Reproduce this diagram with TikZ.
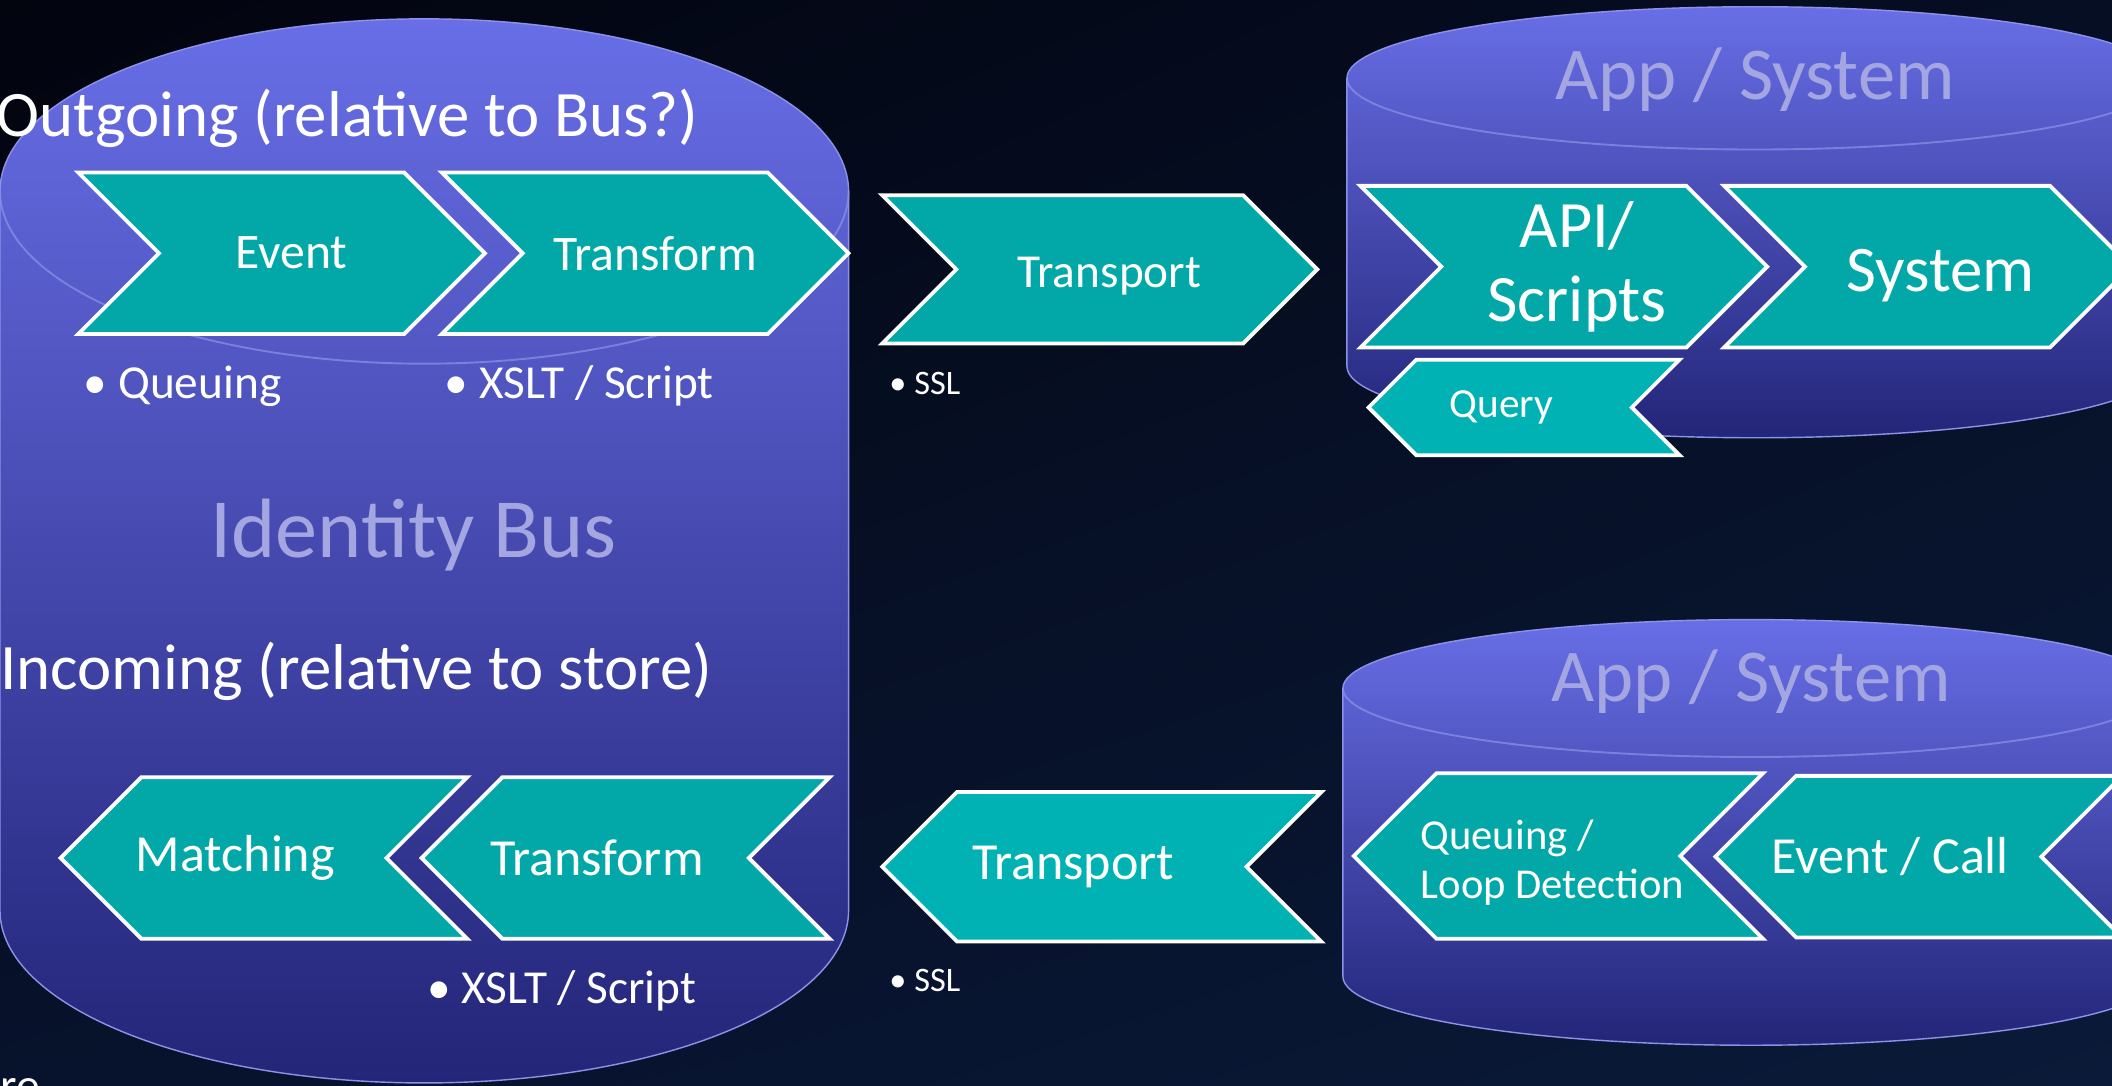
\documentclass[tikz,border=0pt]{standalone}
\usepackage{fontspec}
\setmainfont{Carlito}
\usetikzlibrary{positioning, shapes.symbols, shadings}

\definecolor{chevfill}{RGB}{2,168,168}
\definecolor{chevlight}{RGB}{0,178,180}
\definecolor{drumtop}{RGB}{104,110,230}
\definecolor{drumbot}{RGB}{35,37,120}
\definecolor{drumline}{RGB}{140,146,232}
\definecolor{drumtext}{RGB}{164,166,226}

\begin{document}
\begin{tikzpicture}[
            x=0.02cm, y=0.02cm,
            chev/.style = {shape=signal, draw=white, line width=1.6pt, fill=chevfill, text=white,
                           inner sep=0pt, minimum width=6.04cm, minimum height=2.4cm,
                           font=\fontsize{22}{26}\selectfont},
            rchev/.style = {chev, signal from=west, signal to=east, execute at end node=\hspace{-0.4em}},
            lchev/.style = {chev, signal from=east, signal to=west, execute at begin node=\hspace{-1.1em}},
            drum/.style = {top color=drumtop, bottom color=drumbot, draw=drumline, line width=0.6pt},
            rim/.style = {draw=drumline, line width=0.8pt, opacity=0.7},
            heading/.style = {text=white, inner sep=0pt, anchor=base west, font=\fontsize{27.4}{32}\selectfont},
            dtitle/.style = {text=drumtext, inner sep=0pt, anchor=base},
            bullet/.style = {text=white, inner sep=0pt, anchor=base west, font=\fontsize{20}{24}\selectfont},
            ]
            % background
            \useasboundingbox (0,0) rectangle (1568,806);
            \shade[upper left={rgb,255:red,2;green,4;blue,14}, upper right={rgb,255:red,6;green,14;blue,36},
                   lower left={rgb,255:red,7;green,18;blue,44}, lower right={rgb,255:red,10;green,26;blue,56}]
                (0,0) rectangle (1568,806);

            % identity bus
            \path[drum] (0,664) arc[start angle=180, end angle=0, x radius=315, y radius=128]
                -- (630,130) arc[start angle=0, end angle=-180, x radius=315, y radius=128] -- cycle;
            \draw[rim] (0,664) arc[start angle=180, end angle=360, x radius=315, y radius=128];

            % app / system, top and bottom
            \path[drum] (1000,748) arc[start angle=180, end angle=0, x radius=303, y radius=53]
                -- (1606,534) arc[start angle=0, end angle=-180, x radius=303, y radius=53] -- cycle;
            \draw[rim] (1000,748) arc[start angle=180, end angle=360, x radius=303, y radius=53];
            \path[drum] (997,295) arc[start angle=180, end angle=0, x radius=303, y radius=51]
                -- (1603,81) arc[start angle=0, end angle=-180, x radius=303, y radius=51] -- cycle;
            \draw[rim] (997,295) arc[start angle=180, end angle=360, x radius=303, y radius=51];

            \node[dtitle, font=\fontsize{35.6}{40}\selectfont] (bus) at (307,392) {Identity Bus};
            \node[dtitle, font=\fontsize{31.5}{36}\selectfont] (app-top) at (1303,732) {App / System};
            \node[dtitle, font=\fontsize{31.5}{36}\selectfont] (app-bottom) at (1300,285) {App / System};

            \node[heading] (outgoing) at (-3,705) {Outgoing (relative to Bus?)};
            \node[heading] (incoming) at (0,294) {Incoming (relative to store)};

            % outgoing
            \node[rchev, font=\fontsize{21}{25}\selectfont] (event) at (209,618) {Event};
            \node[rchev, font=\fontsize{21}{25}\selectfont] (transform-out) at (479,618) {Transform};
            \node[rchev, minimum width=6.46cm, minimum height=2.2cm, text height=18.5pt,
                  font=\fontsize{20}{24}\selectfont] (transport-out) at (816.5,606) {Transport};
            \node[rchev, align=center, execute at end node={},
                  font=\fontsize{28}{31}\selectfont] (api) at (1161,608) {API/\\Scripts};
            \node[rchev, text height=25pt, font=\fontsize{27.5}{32}\selectfont] (system) at (1431,608) {System};
            \node[lchev, fill=chevlight, minimum width=4.62cm, minimum height=1.42cm,
                  font=\fontsize{17.5}{21}\selectfont] (query) at (1131.5,503.5) {Query};

            \node[bullet] (queuing) at (62,510) {•\ Queuing};
            \node[bullet] (xslt-out) at (330,510) {•\ XSLT / Script};
            \node[bullet, font=\fontsize{14.5}{17}\selectfont] (ssl-out) at (660,513) {•\ SSL};

            % incoming
            \node[lchev] (matching) at (196,169) {Matching};
            \node[lchev, minimum width=6.06cm] (transform-in) at (464.5,169) {Transform};
            \node[lchev, fill=chevlight, minimum width=6.52cm, minimum height=2.22cm] (transport-in) at (818,162.5) {Transport};
            \node[lchev, minimum width=6.08cm, minimum height=2.46cm, execute at begin node={},
                  font=\fontsize{18}{21}\selectfont] (loop) at (1157,170.5)
                  {\hspace*{0.52cm}\makebox[0pt]{\raisebox{-0.12cm}[\height][\depth]{\begin{tabular}{@{}l@{}}Queuing /\\Loop Detection\end{tabular}}}};
            \node[lchev] (event-call) at (1424.5,170) {Event / Call};

            \node[bullet] (xslt-in) at (317,61) {•\ XSLT / Script};
            \node[bullet, font=\fontsize{14.5}{17}\selectfont] (ssl-in) at (660,70) {•\ SSL};

            \node[text=white, inner sep=0pt, anchor=north west, font=\fontsize{20}{24}\selectfont] (store) at (0,6) {re};
        \end{tikzpicture}
\end{document}
